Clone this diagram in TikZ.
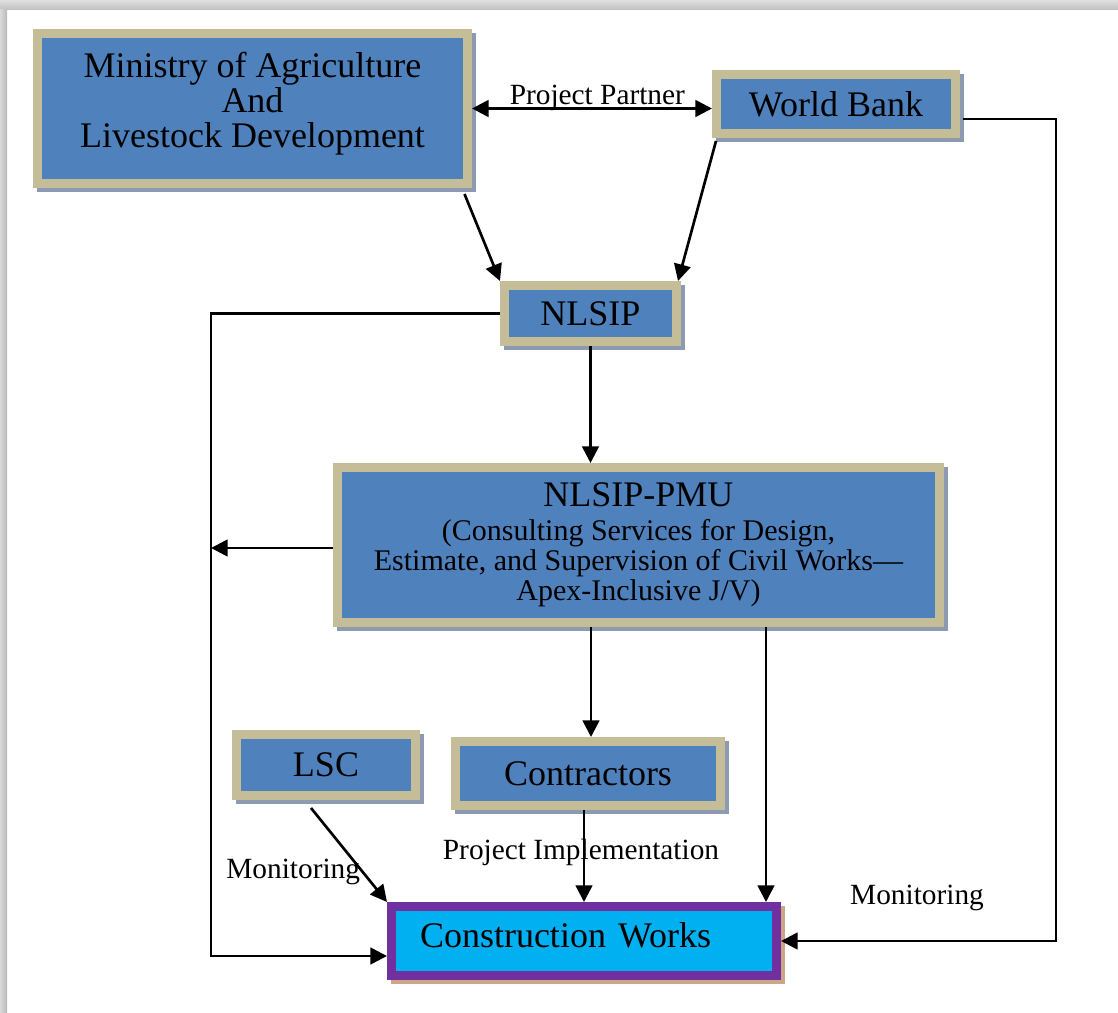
\documentclass[tikz,border=0pt]{standalone}
\usepackage{fontspec}
\setmainfont{Liberation Serif}
\usetikzlibrary{arrows.meta,calc,shadows}
\definecolor{boxblue}{RGB}{79,129,189}
\definecolor{boxtan}{RGB}{196,189,151}
\definecolor{shadowcol}{RGB}{140,155,178}
\definecolor{cwcyan}{RGB}{0,176,240}
\definecolor{cwpurple}{RGB}{112,48,160}
\definecolor{cwshadow}{RGB}{205,165,135}
\begin{document}
\begin{tikzpicture}[x=0.75pt,y=-0.75pt,
  box/.style={draw=boxtan, fill=boxblue, line width=6.75pt, inner sep=0pt,
    align=center, font=\fontsize{27}{26.25}\selectfont,
    drop shadow={shadow xshift=3pt, shadow yshift=-3pt, fill=shadowcol,
      draw=shadowcol, line width=6.75pt, opacity=1}},
  cwbox/.style={draw=cwpurple, fill=cwcyan, line width=6.75pt, inner ysep=0pt,
    inner xsep=21.375pt, text width=246pt, align=left,
    minimum height=51.75pt, font=\fontsize{27}{27}\selectfont,
    drop shadow={shadow xshift=3pt, shadow yshift=-3pt, fill=cwshadow,
      draw=cwshadow, line width=6.75pt, opacity=1}},
  lab/.style={font=\fontsize{22}{22}\selectfont, inner sep=1pt},
  arr/.style={line width=2pt, -{Triangle[length=12.5pt,width=12.5pt]}},
  darr/.style={line width=2pt, {Triangle[length=12.5pt,width=12.5pt]}-{Triangle[length=12.5pt,width=12.5pt]}}
]
\useasboundingbox (0,0) rectangle (1118,1013);
\fill[white] (0,0) rectangle (1118,1013);
\shade[top color=gray!25, bottom color=gray!50] (0,0) rectangle (1118,10);
\shade[left color=gray!30, right color=gray!55] (0,10) rectangle (7,1013);

% boxes
\node[box, minimum width=322.5pt, minimum height=112.5pt, text depth=13pt] (Min) at (252.5,108.5)
  {Ministry of Agriculture\\And\\Livestock Development};
\node[box, minimum width=179.25pt, minimum height=44.25pt] (WB) at (836,104) {World Bank};
\node[box, minimum width=129pt, minimum height=42pt] (NL) at (590.5,313.5) {NLSIP};
\node[box, minimum width=451.5pt, minimum height=116.25pt,
  font=\fontsize{22.5}{22.5}\selectfont] (PMU) at (638.5,545)
  {{\fontsize{27}{27}\selectfont NLSIP-PMU}\\[3pt]
   (Consulting Services for Design,\\
   Estimate, and Supervision of Civil Works—\\
   Apex-Inclusive J/V)};
\node[box, minimum width=134.25pt, minimum height=45.75pt] (LSC) at (326,765) {LSC};
\node[box, minimum width=198.75pt, minimum height=48pt] (Con) at (588,773.5) {Contractors};
\node[cwbox, text depth=9pt] (CW) at (584,941) {Construction Works};

% helper coordinates
\coordinate (L) at (211,0);
\coordinate (c2) at ($(CW.north east)+(-15,0)$);
\coordinate (c3) at ($(Con.north)+(3,0)$);

% connectors
\draw[darr] (Min.east) -- (Min.east -| WB.west)
  node[midway, above, lab, xshift=4pt, yshift=-4pt] {Project Partner};
\draw[arr] ($(Min.south east)+(-7.5,6)$) -- (NL.north west);
\draw[arr] ($(WB.south west)+(4,3)$) -- ($(NL.north east)+(-3,0)$);
\draw[arr] (NL.west) -- (NL.west -| L) |- ($(CW.west)+(0,15)$);
\draw[arr] (NL.south) -- (NL.south |- PMU.north);
\draw[arr] ($(PMU.west)+(0,3)$) -- ($(PMU.west -| L)+(0,3)$);
\draw[arr] (c3 |- PMU.south) -- (c3);
\draw[arr] (c2 |- PMU.south) -- (c2);
\draw[arr] (CW.north |- Con.south) -- (CW.north)
  node[pos=0.457, lab, xshift=-2.25pt] {Project Implementation};
\draw[arr] ($(LSC.south)+(-15,8)$) -- (CW.north west)
  node[pos=0.68, left, lab] {Monitoring};
\draw[arr] ($(WB.east)+(3,15)$) -- ++(93,0) |- (CW.east);
\node[lab] (mon2) at (917,898) {Monitoring};
\end{tikzpicture}
\end{document}
